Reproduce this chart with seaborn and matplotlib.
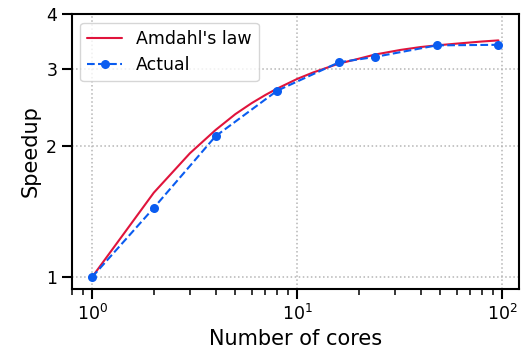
import matplotlib
matplotlib.use("Agg")
import matplotlib.pyplot as plt
import matplotlib.ticker as mticker
import seaborn as sns
import pandas as pd

# Amdahl's law curve
amdahl_cores = [1, 2, 3, 4, 5, 6, 7, 8, 10, 12, 16, 20, 24, 32, 40, 48, 64, 80, 96]
amdahl_speedup = [1.0, 1.56, 1.92, 2.17, 2.36, 2.50, 2.61, 2.70, 2.84, 2.94,
                  3.08, 3.16, 3.23, 3.31, 3.36, 3.39, 3.43, 3.46, 3.48]

# Measured speedups
actual_cores = [1, 2, 4, 8, 16, 24, 48, 96]
actual_speedup = [1.0, 1.44, 2.10, 2.67, 3.10, 3.19, 3.39, 3.40]

y_ticks = [1, 2, 3, 4]

sns.set_style("ticks")
plt.rcParams['font.family'] = ['DejaVu Sans']
plt.rcParams['text.color'] = 'black'
plt.rcParams['axes.labelcolor'] = 'black'
plt.rcParams['xtick.color'] = 'black'
plt.rcParams['ytick.color'] = 'black'

fig = plt.figure(figsize=(5.24, 3.58), dpi=100)
ax = fig.add_axes([0.137, 0.193, 0.853, 0.768])

df_a = pd.DataFrame({"cores": amdahl_cores, "speedup": amdahl_speedup})
df_b = pd.DataFrame({"cores": actual_cores, "speedup": actual_speedup})

sns.lineplot(data=df_a, x="cores", y="speedup", ax=ax, color="#e0143c",
             linewidth=1.5, label="Amdahl's law")
sns.lineplot(data=df_b, x="cores", y="speedup", ax=ax, color="#0a5cf0",
             linewidth=1.5, linestyle="--", marker="o", markersize=6.5,
             markeredgewidth=0, label="Actual")

ax.set_xscale("log")
ax.set_yscale("log")
ax.set_ylim(top=4)
ax.set_yticks(y_ticks)
ax.yaxis.set_major_formatter(mticker.ScalarFormatter())
ax.yaxis.set_minor_locator(mticker.NullLocator())

ax.grid(True, which="major", linestyle=":", color="#b5b5b5", linewidth=1.1)

for s in ax.spines.values():
    s.set_linewidth(1.5)
    s.set_color("black")

ax.tick_params(which="major", length=7, width=1.5, labelsize=12.5,
               colors="black", labelcolor="black")
ax.tick_params(which="minor", length=4.5, width=1.1, colors="black")

ax.set_xlabel("Number of cores", fontsize=15, color="black")
ax.set_ylabel("Speedup", fontsize=15, color="black")

leg = ax.legend(loc="upper left", fontsize=12.5, frameon=True)
leg.get_frame().set_edgecolor("#cccccc")
for t in leg.get_texts():
    t.set_color("black")

fig.savefig("out.png", dpi=100)
